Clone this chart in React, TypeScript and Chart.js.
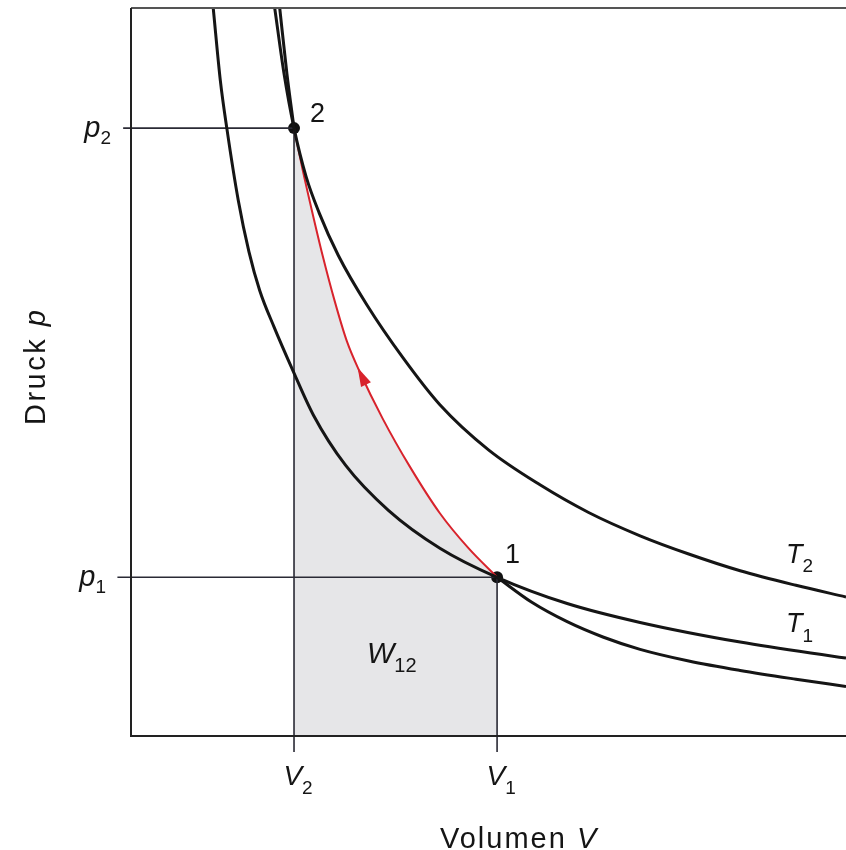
import React, { useEffect, useRef } from "react";
import { Chart, registerables } from "chart.js";

Chart.register(...registerables);

// ---- state points ----
const V2 = 2.28;
const V1 = 5.12;
const P2 = 8.35;
const P1 = 2.18;

const stateV = [V1, V2];
const stateP = [P1, P2];
const stateLabels = ["1", "2"];

// ---- isotherm T1 ----
const t1V = [1.15, 1.25, 1.34, 1.5, 1.65, 1.8, 2.0, 2.26, 2.55, 3.0, 3.6, 4.32, 5.12, 6.1, 7.12, 8.52, 10.0];
const t1P = [10.0, 9.0, 8.35, 7.36, 6.65, 6.12, 5.62, 5.03, 4.41, 3.72, 3.1, 2.58, 2.18, 1.82, 1.56, 1.29, 1.07];

// ---- isotherm T2 ----
const t2V = [2.01, 2.14, 2.28, 2.45, 2.63, 2.9, 3.3, 3.8, 4.32, 5.0, 5.72, 6.4, 7.12, 7.8, 8.52, 9.3, 10.0];
const t2P = [10.0, 9.1, 8.35, 7.68, 7.19, 6.6, 5.92, 5.2, 4.55, 3.93, 3.45, 3.07, 2.75, 2.5, 2.27, 2.07, 1.91];

// ---- adiabat: upper (black), 2 -> 1 (red), lower (black) ----
const adUpV = [2.08, 2.18, 2.28];
const adUpP = [10.0, 9.1, 8.35];
const adRedV = [2.28, 2.4, 2.52, 2.68, 2.85, 3.02, 3.2, 3.52, 3.9, 4.32, 4.72, 5.12];
const adRedP = [8.35, 7.78, 7.26, 6.6, 5.97, 5.42, 5.0, 4.36, 3.7, 3.06, 2.58, 2.18];
const adLowV = [5.12, 5.6, 6.1, 6.6, 7.12, 7.8, 8.52, 9.3, 10.0];
const adLowP = [2.18, 1.84, 1.57, 1.36, 1.19, 1.03, 0.9, 0.78, 0.68];

// ---- axis labels ----
const vTickValues = [V2, V1];
const vTickSubs = ["2", "1"];
const pTickValues = [P2, P1];
const pTickSubs = ["2", "1"];

const ARROW_INDEX = 6;

const zip = (xs: number[], ys: number[]) => xs.map((x, i) => ({ x, y: ys[i] }));

const INK = "#151515";
const MAIN = '"Liberation Sans", Arial, sans-serif';

type Part = { t: string; font: string; dy: number };

function drawParts(
  ctx: CanvasRenderingContext2D,
  x: number,
  y: number,
  parts: Part[],
  align: "left" | "center" | "right",
  spacing = "0px"
) {
  ctx.save();
  (ctx as any).letterSpacing = spacing;
  ctx.textAlign = "left";
  ctx.textBaseline = "alphabetic";
  ctx.fillStyle = INK;
  let w = 0;
  const ws = parts.map((p) => {
    ctx.font = p.font;
    const m = ctx.measureText(p.t).width;
    w += m;
    return m;
  });
  let cx = align === "left" ? x : align === "center" ? x - w / 2 : x - w;
  parts.forEach((p, i) => {
    ctx.font = p.font;
    ctx.fillText(p.t, cx, y + p.dy);
    cx += ws[i];
  });
  ctx.restore();
}

const it = (s: number) => `italic ${s}px ${MAIN}`;
const up = (s: number) => `${s}px ${MAIN}`;

const decorPlugin = {
  id: "decor",
  afterDatasetsDraw(chart: any) {
    const { ctx, chartArea, scales } = chart;
    const xs = scales.x;
    const ys = scales.y;

    // frame: top, left, bottom
    ctx.save();
    ctx.lineCap = "butt";
    ctx.strokeStyle = "#555";
    ctx.lineWidth = 2;
    ctx.beginPath();
    ctx.moveTo(chartArea.left, chartArea.top);
    ctx.lineTo(chartArea.right, chartArea.top);
    ctx.stroke();
    ctx.strokeStyle = "#222";
    ctx.beginPath();
    ctx.moveTo(chartArea.left, chartArea.top);
    ctx.lineTo(chartArea.left, chartArea.bottom);
    ctx.lineTo(chartArea.right, chartArea.bottom);
    ctx.stroke();
    ctx.restore();

    // arrow on red curve
    const meta = chart.getDatasetMeta(2);
    const pts = meta.data;
    if (pts && pts.length > ARROW_INDEX + 1) {
      const tip = pts[ARROW_INDEX];
      const from = pts[ARROW_INDEX + 1];
      let dx = tip.x - from.x;
      let dy = tip.y - from.y;
      const len = Math.hypot(dx, dy);
      dx /= len;
      dy /= len;
      const L = 19;
      const H = 5.5;
      const tx = tip.x + dx * 5;
      const ty = tip.y + dy * 5;
      const bx = tx - dx * L;
      const by = ty - dy * L;
      ctx.save();
      ctx.fillStyle = "#d8232c";
      ctx.beginPath();
      ctx.moveTo(tx, ty);
      ctx.lineTo(bx - dy * H, by + dx * H);
      ctx.lineTo(bx + dy * H, by - dx * H);
      ctx.closePath();
      ctx.fill();
      ctx.restore();
    }

    // V tick labels
    vTickValues.forEach((v, i) => {
      drawParts(
        ctx,
        xs.getPixelForValue(v) + 4,
        785,
        [
          { t: "V", font: it(28), dy: 0 },
          { t: vTickSubs[i], font: up(19), dy: 9 },
        ],
        "center"
      );
    });

    // p tick labels
    pTickValues.forEach((p, i) => {
      drawParts(
        ctx,
        i === 0 ? 111 : 106,
        ys.getPixelForValue(p) + 9,
        [
          { t: "p", font: it(29), dy: 0 },
          { t: pTickSubs[i], font: up(19), dy: 7 },
        ],
        "right"
      );
    });

    // state point labels
    stateV.forEach((v, i) => {
      const px = xs.getPixelForValue(v);
      const py = ys.getPixelForValue(stateP[i]);
      const off = i === 0 ? [8, -14] : [16, -6];
      drawParts(ctx, px + off[0], py + off[1], [{ t: stateLabels[i], font: up(27), dy: 0 }], "left");
    });

    // curve labels
    drawParts(ctx, 786, 563, [
      { t: "T", font: it(27), dy: 0 },
      { t: "2", font: up(19), dy: 9 },
    ], "left");
    drawParts(ctx, 786, 632, [
      { t: "T", font: it(27), dy: 0 },
      { t: "1", font: up(19), dy: 10 },
    ], "left");

    // work label
    drawParts(ctx, 367, 663, [
      { t: "W", font: it(29), dy: 0 },
      { t: "12", font: up(20), dy: 9 },
    ], "left");

    // axis titles
    drawParts(ctx, 440, 848, [
      { t: "Volumen ", font: up(29), dy: 0 },
      { t: "V", font: it(29), dy: 0 },
    ], "left", "2px");

    ctx.save();
    ctx.translate(45, 425);
    ctx.rotate(-Math.PI / 2);
    drawParts(ctx, 0, 0, [
      { t: "Druck ", font: up(29), dy: 0 },
      { t: "p", font: it(29), dy: 0 },
    ], "left", "2.5px");
    ctx.restore();
  },
};

export default function App() {
  const ref = useRef<HTMLCanvasElement | null>(null);

  useEffect(() => {
    document.body.style.margin = "0";
    document.body.style.background = "#fff";
    const canvas = ref.current;
    if (!canvas) return;

    const black = {
      borderColor: INK,
      borderWidth: 3,
      pointRadius: 0,
      fill: false,
      cubicInterpolationMode: "monotone" as const,
    };
    const guide = {
      borderColor: "#2a2a35",
      borderWidth: 1.6,
      pointRadius: 0,
      fill: false,
      tension: 0,
      clip: false as const,
    };
    const OUT_P = 0.22;

    const chart = new Chart(canvas, {
      type: "line",
      data: {
        datasets: [
          { ...black, data: zip(t1V, t1P) },
          { ...black, data: zip(t2V, t2P) },
          {
            data: zip(adRedV, adRedP),
            borderColor: "#d8232c",
            borderWidth: 2,
            pointRadius: 0,
            fill: "origin",
            backgroundColor: "#e6e6e8",
            cubicInterpolationMode: "monotone",
          },
          { ...black, data: zip(adUpV, adUpP) },
          { ...black, data: zip(adLowV, adLowP) },
          { ...guide, data: [{ x: -0.11, y: P2 }, { x: V2, y: P2 }] },
          { ...guide, data: [{ x: -0.19, y: P1 }, { x: V1, y: P1 }] },
          { ...guide, data: [{ x: V2, y: P2 }, { x: V2, y: -OUT_P }] },
          { ...guide, data: [{ x: V1, y: P1 }, { x: V1, y: -OUT_P }] },
          {
            data: zip(stateV, stateP),
            showLine: false,
            pointRadius: 6,
            pointBackgroundColor: "#111",
            pointBorderColor: "#111",
            pointBorderWidth: 0,
          },
        ] as any,
      },
      options: {
        responsive: false,
        animation: false,
        layout: { autoPadding: false, padding: { left: 131, top: 8, right: 0, bottom: 114 } },
        scales: {
          x: { type: "linear", min: 0, max: 10, display: false },
          y: { type: "linear", min: 0, max: 10, display: false },
        },
        plugins: {
          legend: { display: false },
          tooltip: { enabled: false },
          filler: { drawTime: "beforeDatasetsDraw" } as any,
        },
        events: [],
      } as any,
      plugins: [decorPlugin],
    });

    return () => chart.destroy();
  }, []);

  return (
    <div style={{ width: 846, height: 850 }}>
      <canvas ref={ref} width={846} height={850} style={{ display: "block" }} />
    </div>
  );
}
